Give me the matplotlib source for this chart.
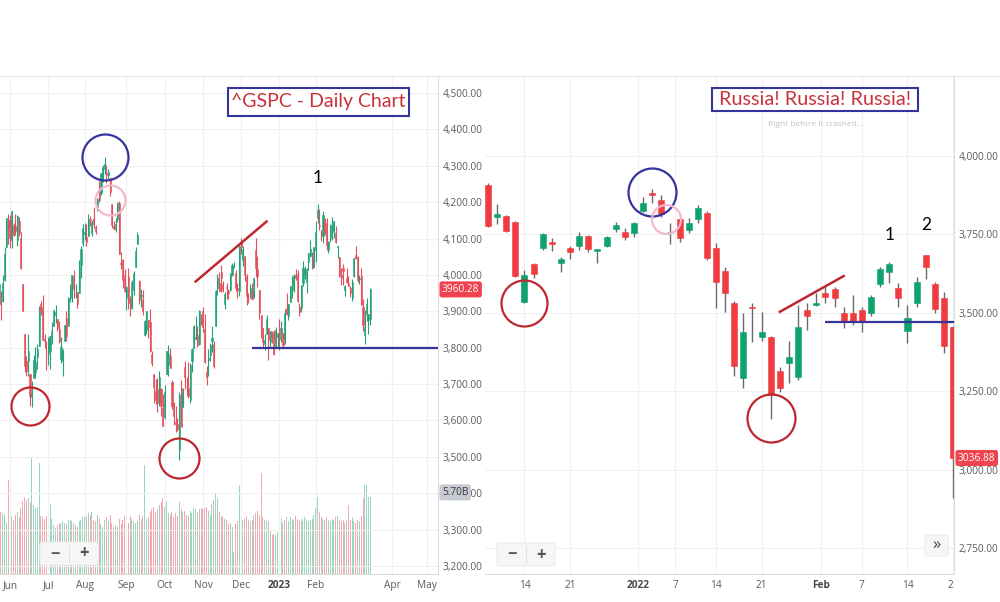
import numpy as np
import pandas as pd
import matplotlib
matplotlib.use("Agg")
import matplotlib.pyplot as plt
from matplotlib.patches import Rectangle, FancyBboxPatch
from matplotlib.lines import Line2D
from matplotlib.ticker import FuncFormatter
from matplotlib.transforms import blended_transform_factory, Bbox, TransformedBbox

plt.rcParams['font.family'] = ['Open Sans', 'DejaVu Sans']

# ---------------------------------------------------------------------------
# ^GSPC daily, 2022-05-23 .. 2023-03-16 (one value per trading day)
# ---------------------------------------------------------------------------
spx_holidays = ['2022-05-30', '2022-06-20', '2022-07-04', '2022-09-05', '2022-11-24',
                '2022-12-26', '2023-01-02', '2023-01-16', '2023-02-20', '2023-04-07']

spx_open = [
    3919, 3942, 3929, 3985, 4078, 4151,  # May
    4150, 4096, 4137, 4134, 4097, 4148, 4102, 3974, 3838, 3764, 3764, 3728, 3665, 3716, 3733,
    3775, 3805, 3920, 3913, 3825, 3786,  # Jun
    3782, 3792, 3831, 3859, 3889, 3880, 3851, 3770, 3764, 3818, 3883, 3861, 3936, 3955, 3998,
    3966, 3953, 3951, 4027, 4087,  # Jul
    4113, 4104, 4107, 4154, 4116, 4156, 4133, 4181, 4227, 4225, 4270, 4291, 4281, 4274, 4266,
    4195, 4134, 4127, 4153, 4199, 4034, 4041, 4000,  # Aug
    3937, 3995, 3930, 3910, 3960, 4023, 4084, 3983, 3941, 3932, 3836, 3849, 3875, 3871, 3782,
    3727, 3682, 3687, 3651, 3687, 3633,  # Sep
    3609, 3727, 3753, 3778, 3706, 3647, 3595, 3590, 3520, 3690, 3638, 3746, 3696, 3689, 3657,
    3763, 3799, 3825, 3834, 3809, 3881,  # Oct
    3901, 3852, 3733, 3767, 3780, 3818, 3810, 3859, 3963, 3977, 4007, 3976, 3919, 3967, 3956,
    3958, 4001, 4023, 4006, 3964, 3957,  # Nov
    4087, 4040, 4053, 3996, 3934, 3947, 3955, 3940, 4070, 4016, 3958, 3891, 3853, 3810, 3839,
    3853, 3816, 3843, 3829, 3805, 3829,  # Dec
    3853, 3840, 3840, 3823, 3910, 3888, 3927, 3977, 3960, 3999, 4003, 3911, 3909, 3978, 4002,
    3982, 4036, 4053, 4049, 4021,  # Jan
    4070, 4158, 4137, 4119, 4106, 4153, 4144, 4068, 4101, 4126, 4119, 4115, 4078, 4050, 4001,
    4018, 3958, 3992, 3977,  # Feb
    3963, 3938, 3998, 4055, 4049, 3988, 3998, 3912, 3835, 3894, 3876, 3878,  # Mar
]
spx_high = [
    3981, 3955, 3999, 4076, 4158, 4169,
    4166, 4177, 4143, 4168, 4164, 4160, 4119, 3975, 3838, 3778, 3838, 3728, 3708, 3779, 3801,
    3809, 3914, 3928, 3946, 3837, 3818,
    3829, 3832, 3870, 3905, 3918, 3880, 3874, 3829, 3796, 3863, 3902, 3940, 3975, 3999, 4013,
    3976, 3954, 4040, 4079, 4141,
    4144, 4140, 4167, 4161, 4152, 4186, 4137, 4211, 4257, 4280, 4301, 4325, 4303, 4292, 4266,
    4195, 4149, 4157, 4200, 4204, 4062, 4044, 4016,
    3971, 4019, 3942, 3987, 4010, 4077, 4119, 3986, 3962, 3960, 3876, 3900, 3876, 3907, 3790,
    3727, 3715, 3717, 3736, 3688, 3672,
    3698, 3791, 3807, 3798, 3711, 3652, 3641, 3606, 3677, 3712, 3689, 3763, 3719, 3762, 3757,
    3800, 3862, 3887, 3859, 3905, 3893,
    3911, 3894, 3750, 3796, 3813, 3860, 3818, 3959, 4002, 4009, 4028, 3984, 3954, 3979, 3962,
    4005, 4034, 4035, 4013, 3977, 4080,
    4101, 4080, 4053, 4002, 3951, 3974, 3977, 3991, 4101, 4053, 3959, 3891, 3855, 3838, 3889,
    3853, 3845, 3846, 3848, 3858, 3840,
    3878, 3874, 3840, 3906, 3951, 3919, 3970, 3998, 4004, 4016, 4015, 3922, 3973, 4039, 4026,
    4020, 4061, 4095, 4063, 4077,
    4149, 4195, 4182, 4124, 4176, 4157, 4157, 4094, 4139, 4160, 4149, 4136, 4081, 4050, 4018,
    4029, 3972, 4018, 3998,
    3971, 3990, 4048, 4079, 4051, 4001, 4018, 3935, 3905, 3937, 3894, 3965,
]
spx_low = [
    3909, 3875, 3925, 3984, 4078, 4084,
    4074, 4074, 4107, 4110, 4080, 4107, 4017, 3900, 3734, 3723, 3723, 3639, 3636, 3716, 3717,
    3742, 3805, 3889, 3820, 3799, 3738,
    3752, 3742, 3809, 3859, 3869, 3847, 3813, 3758, 3722, 3818, 3818, 3861, 3925, 3927, 3938,
    3937, 3910, 3951, 3993, 4080,
    4097, 4080, 4107, 4135, 4107, 4128, 4112, 4177, 4201, 4220, 4256, 4277, 4254, 4265, 4218,
    4129, 4123, 4119, 4147, 4057, 4017, 3965, 3954,
    3903, 3907, 3886, 3907, 3944, 4023, 4084, 3920, 3911, 3889, 3833, 3839, 3827, 3789, 3749,
    3648, 3644, 3623, 3641, 3611, 3584,
    3604, 3727, 3723, 3745, 3632, 3588, 3569, 3572, 3491, 3584, 3638, 3686, 3668, 3662, 3647,
    3733, 3799, 3825, 3803, 3808, 3863,
    3843, 3758, 3698, 3722, 3764, 3787, 3744, 3859, 3944, 3956, 3954, 3954, 3907, 3935, 3933,
    3956, 3998, 4020, 3956, 3938, 3943,
    4057, 4026, 3984, 3918, 3922, 3936, 3933, 3937, 3994, 3966, 3879, 3827, 3800, 3795, 3839,
    3765, 3798, 3813, 3780, 3805, 3801,
    3795, 3815, 3802, 3809, 3890, 3877, 3925, 3938, 3954, 3985, 3926, 3886, 3899, 3971, 3990,
    3950, 4013, 4049, 4016, 4021,
    4037, 4142, 4123, 4094, 4089, 4111, 4070, 4060, 4091, 4095, 4103, 4089, 4048, 3995, 3973,
    3972, 3943, 3977, 3969,
    3939, 3928, 3995, 4044, 3981, 3974, 3918, 3847, 3809, 3874, 3838, 3862,
]
spx_close = [
    3974, 3941, 3979, 4058, 4158, 4132,
    4101, 4176, 4109, 4121, 4161, 4116, 4018, 3901, 3750, 3735, 3790, 3667, 3675, 3765, 3760,
    3796, 3912, 3900, 3821, 3819, 3785,
    3825, 3831, 3845, 3903, 3899, 3855, 3819, 3801, 3790, 3863, 3831, 3937, 3960, 3999, 3962,
    3967, 3921, 4024, 4072, 4130,
    4119, 4091, 4155, 4152, 4145, 4140, 4122, 4210, 4207, 4280, 4297, 4305, 4275, 4284, 4228,
    4138, 4128, 4141, 4199, 4058, 4031, 3986, 3955,
    3967, 3924, 3908, 3980, 4006, 4067, 4110, 3932, 3946, 3901, 3873, 3900, 3856, 3790, 3758,
    3693, 3655, 3647, 3719, 3640, 3586,
    3678, 3791, 3783, 3745, 3640, 3612, 3589, 3577, 3669, 3583, 3677, 3720, 3695, 3666, 3752,
    3797, 3859, 3830, 3807, 3901, 3872,
    3856, 3760, 3720, 3771, 3807, 3828, 3749, 3957, 3993, 3957, 3992, 3959, 3947, 3965, 3950,
    4004, 4028, 4026, 3964, 3958, 4080,
    4077, 4072, 3999, 3941, 3933, 3964, 3934, 3991, 4019, 3996, 3896, 3852, 3817, 3821, 3879,
    3822, 3845, 3829, 3783, 3849, 3840,
    3825, 3853, 3808, 3895, 3893, 3919, 3970, 3983, 3999, 3991, 3929, 3899, 3973, 4020, 4017,
    4016, 4060, 4071, 4018, 4077,
    4119, 4180, 4136, 4111, 4164, 4118, 4082, 4090, 4137, 4136, 4148, 4090, 4079, 3997, 3991,
    4012, 3970, 3982, 3970,
    3951, 3981, 4046, 4048, 3986, 3992, 3918, 3862, 3856, 3919, 3892, 3960.28,
]
# volume, billions
spx_volume = [
    4.7, 4.6, 4.5, 4.4, 3.8, 7.0,
    4.8, 4.3, 4.0, 4.4, 4.6, 4.2, 4.9, 5.4, 5.7, 5.5, 5.6, 5.3, 8.7, 5.1, 4.9, 5.0, 8.2, 4.3,
    4.2, 4.1, 4.3,
    4.0, 5.2, 4.1, 3.6, 3.4, 3.6, 3.7, 3.8, 3.9, 3.8, 3.7, 4.0, 4.0, 3.9, 3.8, 3.6, 3.5, 3.9,
    4.0, 4.2,
    4.2, 4.3, 4.5, 4.4, 4.6, 4.0, 3.9, 4.4, 4.1, 3.7, 3.5, 4.0, 4.2, 3.9, 4.4, 3.8, 3.5, 3.6,
    3.5, 4.1, 3.7, 4.0, 4.3,
    4.2, 3.8, 4.3, 4.1, 3.9, 3.8, 3.9, 4.4, 4.1, 4.3, 8.1, 4.1, 4.2, 4.6, 4.8, 5.0, 4.6, 4.8,
    5.1, 5.3, 5.6,
    5.0, 5.4, 4.5, 4.4, 4.6, 4.2, 4.5, 4.3, 5.3, 4.8, 4.6, 4.7, 4.4, 4.3, 4.7, 4.5, 4.9, 4.8,
    4.6, 4.8, 4.9,
    4.8, 4.9, 5.0, 4.7, 4.4, 5.2, 5.5, 5.9, 5.6, 4.6, 4.3, 4.2, 4.1, 4.0, 3.7, 3.8, 3.5, 1.6,
    3.7, 3.9, 6.6,
    4.2, 4.0, 4.1, 4.3, 4.0, 3.9, 4.0, 4.4, 4.5, 4.7, 4.4, 7.5, 4.2, 4.0, 4.0, 3.9, 3.2, 2.9,
    3.0, 2.9, 3.1,
    3.9, 4.1, 3.8, 4.0, 4.2, 3.9, 4.2, 4.1, 4.0, 4.3, 4.1, 4.0, 4.1, 3.9, 4.2, 4.1, 3.9, 4.0,
    4.1, 4.4,
    4.9, 5.7, 4.6, 4.2, 4.1, 4.0, 4.2, 4.0, 3.9, 4.1, 4.0, 4.2, 4.3, 4.0, 3.9, 4.0, 3.8, 3.9,
    5.1,
    4.0, 4.2, 3.9, 3.8, 4.0, 3.9, 4.3, 5.6, 6.6, 6.6, 5.7, 5.70,
]
spx_tick_dates = ['2022-06-01', '2022-07-01', '2022-08-01', '2022-09-01', '2022-10-01',
                  '2022-11-01', '2022-12-01', '2023-01-01', '2023-02-01', '2023-04-01',
                  '2023-05-01']
spx_tick_labels = ['Jun', 'Jul', 'Aug', 'Sep', 'Oct', 'Nov', 'Dec', '2023', 'Feb', 'Apr', 'May']

# ---------------------------------------------------------------------------
# Russian index daily, 2021-12-08 .. 2022-02-21
# ---------------------------------------------------------------------------
rus_holidays = ['2021-12-31', '2022-01-07']
rus_open = [3908, 3805, 3809, 3790, 3535, 3656, 3707, 3726, 3659, 3707,
            3713, 3745, 3697, 3713, 3767, 3758, 3755, 3825, 3882, 3860,
            3757, 3799, 3764, 3799, 3818, 3707, 3633, 3531, 3292, 3518,
            3423, 3423, 3315, 3340, 3295, 3509, 3525, 3563, 3576, 3499,
            3499, 3509, 3499, 3592, 3630, 3579, 3442, 3531, 3684, 3592,
            3547, 3455]
rus_high = [3915, 3847, 3812, 3793, 3636, 3659, 3754, 3739, 3678, 3713,
            3758, 3748, 3704, 3745, 3790, 3770, 3790, 3869, 3895, 3876,
            3787, 3802, 3802, 3844, 3825, 3723, 3646, 3538, 3499, 3531,
            3502, 3425, 3327, 3410, 3525, 3531, 3563, 3585, 3582, 3518,
            3557, 3518, 3557, 3646, 3662, 3595, 3525, 3614, 3684, 3598,
            3566, 3458]
rus_low = [3773, 3783, 3759, 3615, 3532, 3611, 3700, 3697, 3630, 3671,
           3700, 3694, 3659, 3710, 3758, 3732, 3742, 3821, 3850, 3805,
           3719, 3726, 3754, 3786, 3668, 3515, 3503, 3298, 3260, 3407,
           3410, 3161, 3247, 3276, 3286, 3445, 3522, 3531, 3518, 3451,
           3461, 3439, 3490, 3582, 3595, 3518, 3404, 3518, 3608, 3499,
           3372, 2910]
rus_close = [3777, 3815, 3761, 3617, 3620, 3624, 3751, 3719, 3671, 3694,
             3745, 3703, 3703, 3742, 3780, 3742, 3787, 3850, 3876, 3815,
             3759, 3739, 3787, 3834, 3675, 3598, 3563, 3330, 3439, 3515,
             3439, 3238, 3260, 3359, 3455, 3490, 3531, 3550, 3547, 3471,
             3471, 3471, 3550, 3639, 3656, 3547, 3484, 3598, 3646, 3512,
             3394, 3036.88]
rus_tick_dates = ['2021-12-14', '2021-12-21', '2022-01-01', '2022-01-07', '2022-01-14',
                  '2022-01-21', '2022-02-01', '2022-02-07', '2022-02-14', '2022-02-21']
rus_tick_labels = ['14', '21', '2022', '7', '14', '21', 'Feb', '7', '14', '21']

# ---------------------------------------------------------------------------
W, H = 1000, 602
RED_TXT = '#c8323c'
BOX_BLUE = '#34349a'
CIRCLE_RED = '#bf2730'
CIRCLE_PINK = '#f3b8d0'


def px_rect(x0, x1, top, bottom):
    return [x0 / W, 1 - bottom / H, (x1 - x0) / W, (bottom - top) / H]


def draw_candles(ax, x, o, h, l, c, width, up, down, wick=None, wick_lw=0.8):
    o, h, l, c = (np.asarray(a, dtype=float) for a in (o, h, l, c))
    colors = np.where(c >= o, up, down)
    ax.vlines(x, l, h, colors=colors if wick is None else wick, lw=wick_lw, zorder=2)
    ax.bar(x, c - o, bottom=o, width=width, color=colors, edgecolor=colors,
           lw=0.4, zorder=3)
    return colors


def style_axes(ax):
    for side in ('left', 'top'):
        ax.spines[side].set_visible(False)
    for side in ('right', 'bottom'):
        ax.spines[side].set_color('#dcdcdc')
        ax.spines[side].set_linewidth(0.8)
    ax.yaxis.tick_right()
    ax.grid(True, color='#f0f0f0', lw=0.8)
    ax.set_axisbelow(True)
    ax.tick_params(axis='both', length=0, labelsize=7.3, labelcolor='#5a5a5a')
    ax.tick_params(axis='y', pad=3.5)
    ax.tick_params(axis='x', pad=4.5)
    ax.yaxis.set_major_formatter(FuncFormatter(lambda v, _: f"{v:,.2f}"))


def ring(ax, x, y, diam_px, color):
    ax.plot([x], [y], marker='o', ms=diam_px * 0.72, mfc='none', mec=color,
            mew=1.6, zorder=6, clip_on=False)


def zoom_buttons(x0, top):
    fig.add_artist(FancyBboxPatch((x0 / W, 1 - (top + 23) / H), 58 / W, 23 / H,
                                  boxstyle='round,pad=0,rounding_size=0.003',
                                  transform=fig.transFigure, fc='#f6f6f6',
                                  ec='#ececec', lw=0.8, zorder=20))
    fig.add_artist(Line2D([(x0 + 29) / W] * 2, [1 - (top + 3) / H, 1 - (top + 20) / H],
                          transform=fig.transFigure, color='#e2e2e2', lw=0.8, zorder=21))
    fig.text((x0 + 15) / W, 1 - (top + 11.5) / H, '\u2212', ha='center', va='center',
             fontsize=12, color='#555555', fontweight='bold', zorder=22)
    fig.text((x0 + 44) / W, 1 - (top + 11.5) / H, '+', ha='center', va='center',
             fontsize=12, color='#555555', fontweight='bold', zorder=22)


fig = plt.figure(figsize=(W / 100, H / 100), dpi=100)
fig.patch.set_facecolor('white')

# ---------------------------- left: ^GSPC ----------------------------------
spx_days = pd.bdate_range('2022-05-23', '2023-05-31', freq='C', holidays=spx_holidays)
x_spx = np.arange(len(spx_close))


def spx_pos(d):
    return spx_days.searchsorted(pd.Timestamp(d))


rect_l = px_rect(0, 438, 76, 574)
vol = fig.add_axes(rect_l, zorder=0)
ax_l = fig.add_axes(rect_l, zorder=1)
ax_l.patch.set_alpha(0)

spx_colors = draw_candles(ax_l, x_spx, spx_open, spx_high, spx_low, spx_close, 0.6,
                          '#23a27a', '#e2505b', wick_lw=0.8)
vol_colors = np.where(np.asarray(spx_close) >= np.asarray(spx_open), '#9bd6c0', '#f0aab0')
vol.bar(x_spx, spx_volume, width=0.55, color=vol_colors, lw=0)
vol.set_xlim(0.5, 241.2)
vol.set_ylim(0, 36.9)
vol.axis('off')

style_axes(ax_l)
ax_l.set_xlim(0.5, 241.2)
ax_l.set_ylim(3178, 4547)
ax_l.set_yticks(np.arange(3200, 4501, 100))
ax_l.set_xticks([spx_pos(d) for d in spx_tick_dates])
ax_l.set_xticklabels(spx_tick_labels)
for lbl in ax_l.get_xticklabels():
    if lbl.get_text().isdigit():
        lbl.set_fontweight('bold')
        lbl.set_color('#444444')

tr_l = blended_transform_factory(ax_l.transAxes, ax_l.transData)
ax_l.text(1 + 4 / 438, spx_close[-1], f"{spx_close[-1]:.2f}", transform=tr_l,
          ha='left', va='center', color='white', fontsize=7.3, zorder=10, clip_on=False,
          bbox=dict(boxstyle='round,pad=0.25,rounding_size=0.25', fc='#ef4350', ec='none'))
tr_v = blended_transform_factory(ax_l.transAxes, vol.transData)
ax_l.text(1 + 4 / 438, spx_volume[-1] + 0.35, f"{spx_volume[-1]:.2f}B", transform=tr_v,
          ha='left', va='center', color='#3a3a3a', fontsize=7.3, zorder=10, clip_on=False,
          bbox=dict(boxstyle='round,pad=0.25,rounding_size=0.25', fc='#c6cad2', ec='none'))

# annotations
ring(ax_l, spx_pos('2022-08-16'), 4325, 46, BOX_BLUE)
ring(ax_l, spx_pos('2022-08-19'), 4205, 30, CIRCLE_PINK)
ring(ax_l, spx_pos('2022-06-16'), 3640, 38, CIRCLE_RED)
ring(ax_l, spx_pos('2022-10-13'), 3497, 40, CIRCLE_RED)
ax_l.plot([spx_pos('2022-10-26'), spx_pos('2022-12-21')], [3982, 4147],
          color=CIRCLE_RED, lw=1.8, zorder=6)
ax_l.hlines(3800, spx_pos('2022-12-09'), 241.2, color=BOX_BLUE, lw=1.6, zorder=6)
ax_l.text(spx_pos('2023-02-02'), 4266, '1', ha='center', va='center', fontsize=12.5,
          family='Lato', color='black', zorder=7)
ax_l.add_patch(Rectangle((228 / 438, 1 - 40 / 498), 181 / 438, 28 / 498,
                         transform=ax_l.transAxes, fc='white', ec=BOX_BLUE, lw=1.5,
                         zorder=8))
ax_l.text(318.5 / 438, 1 - 26 / 498, '^GSPC - Daily Chart', transform=ax_l.transAxes,
          ha='center', va='center', fontsize=14, family='Lato', color=RED_TXT, zorder=9)

# ---------------------------- right: Russia --------------------------------
rus_days = pd.bdate_range('2021-12-08', '2022-02-21', freq='C', holidays=rus_holidays)
x_rus = np.arange(len(rus_close))


def rus_pos(d, boundary=False):
    ts = pd.Timestamp(d)
    i = float(rus_days.searchsorted(ts))
    if ts not in rus_days or ts.day == 1:
        i -= 0.5
    return i


ax_r = fig.add_axes(px_rect(485, 954, 76, 574), zorder=1)
draw_candles(ax_r, x_rus, rus_open, rus_high, rus_low, rus_close, 0.66,
             '#0ea26c', '#f03b40', wick='#6a6a6a', wick_lw=1.0)
style_axes(ax_r)
ax_r.set_xlim(-0.33, 51.1)
ax_r.set_ylim(2667, 4255)
ax_r.set_yticks(np.arange(2750, 4001, 250))
ax_r.set_xticks([rus_pos(d) for d in rus_tick_dates])
ax_r.set_xticklabels(rus_tick_labels)
for lbl in ax_r.get_xticklabels():
    if not lbl.get_text().isdigit() or len(lbl.get_text()) == 4:
        lbl.set_fontweight('bold')
        lbl.set_color('#4a4a4a')
last_lbl = ax_r.get_xticklabels()[-1]
last_lbl.set_clip_box(TransformedBbox(Bbox([[-0.1, -0.2], [1.0, 1.0]]), ax_r.transAxes))
last_lbl.set_clip_on(True)

tr_r = blended_transform_factory(ax_r.transAxes, ax_r.transData)
ax_r.text(1 + 4 / 469, rus_close[-1], f"{rus_close[-1]:.2f}", transform=tr_r,
          ha='left', va='center', color='white', fontsize=7.3, zorder=10, clip_on=False,
          bbox=dict(boxstyle='round,pad=0.25,rounding_size=0.25', fc='#ef4350', ec='none'))

ring(ax_r, rus_pos('2022-01-04'), 3885, 48, BOX_BLUE)
ring(ax_r, rus_pos('2022-01-05') + 0.5, 3799, 29, CIRCLE_PINK)
ring(ax_r, rus_pos('2021-12-14'), 3531, 46, CIRCLE_RED)
ring(ax_r, rus_pos('2022-01-24'), 3164, 48, CIRCLE_RED)
ax_r.plot([rus_pos('2022-01-25'), rus_pos('2022-02-03')], [3503, 3617],
          color=CIRCLE_RED, lw=1.8, zorder=6)
ax_r.hlines(3471, rus_pos('2022-02-01') + 0.5, 51.1, color=BOX_BLUE, lw=1.6, zorder=6)
ax_r.text(rus_pos('2022-02-10'), 3748, '1', ha='center', va='center', fontsize=12.5,
          family='Lato', color='black', zorder=7)
ax_r.text(rus_pos('2022-02-16'), 3780, '2', ha='center', va='center', fontsize=12.5,
          family='Lato', color='black', zorder=7)
ax_r.add_patch(Rectangle((227 / 469, 1 - 35 / 498), 206 / 469, 23 / 498,
                         transform=ax_r.transAxes, fc='white', ec=BOX_BLUE, lw=1.5,
                         zorder=8))
ax_r.text(330 / 469, 1 - 23.5 / 498, 'Russia! Russia! Russia!', transform=ax_r.transAxes,
          ha='center', va='center', fontsize=14.3, family='Lato', color=RED_TXT, zorder=9)
ax_r.text(331 / 469, 1 - 49 / 498, 'Right before it crashed...', transform=ax_r.transAxes,
          ha='center', va='center', fontsize=6, color='#c4c4c4', zorder=9)

# ---------------------------- chrome ---------------------------------------
fig.add_artist(Line2D([0, 1], [1 - 76 / H] * 2, transform=fig.transFigure,
                      color='#e4e4e4', lw=0.8))
zoom_buttons(40, 542)
zoom_buttons(497, 543)
fig.add_artist(FancyBboxPatch((925 / W, 1 - 556 / H), 23 / W, 21 / H,
                              boxstyle='round,pad=0,rounding_size=0.003',
                              transform=fig.transFigure, fc='#f6f6f6', ec='#ececec',
                              lw=0.8, zorder=20))
fig.text(936.5 / W, 1 - 545 / H, '\u00bb', ha='center', va='center', fontsize=12,
         color='#444444', zorder=22)

fig.savefig('out.png', dpi=100, facecolor='white')
